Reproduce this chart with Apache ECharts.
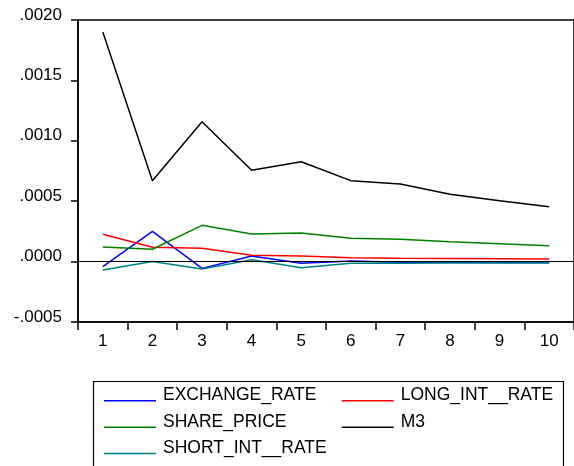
<!DOCTYPE html>
<html>
<head>
<meta charset="utf-8">
<script src="https://cdn.jsdelivr.net/npm/echarts@6/dist/echarts.min.js"></script>
<style>
  html, body { margin: 0; padding: 0; background: #fff; }
  #chart { width: 574px; height: 466px; }
</style>
</head>
<body>
<div id="chart"></div>
<script>
// Response periods
const periods = ['1', '2', '3', '4', '5', '6', '7', '8', '9', '10'];

// Responses per variable
const exchangeRate = [-0.000042, 0.00025, -0.000056, 0.000046, -0.000014, 0.000005, -0.000006, -0.000006, -0.000007, -0.000007];
const longIntRate  = [0.000226, 0.000118, 0.00011, 0.000052, 0.000046, 0.000032, 0.000027, 0.000025, 0.000023, 0.000022];
const sharePrice   = [0.000121, 0.000102, 0.0003, 0.000228, 0.000237, 0.000193, 0.000185, 0.000165, 0.000148, 0.000132];
const m3           = [0.0019, 0.00067, 0.001158, 0.000756, 0.000827, 0.00067, 0.000642, 0.000557, 0.000504, 0.000454];
const shortIntRate = [-0.00007, 0.0, -0.000061, 0.000016, -0.00005, -0.000014, -0.000014, -0.000011, -0.000011, -0.000011];

// Y axis range
const yMin = -0.0005, yMax = 0.002, yStep = 0.0005;

const FONT = 'Liberation Sans';

const chart = echarts.init(document.getElementById('chart'), null, { renderer: 'canvas' });

function line(name, data, color) {
  return {
    name: name,
    type: 'line',
    data: data,
    symbol: 'none',
    lineStyle: { color: color, width: 1.5 },
    itemStyle: { color: color },
    animation: false
  };
}

const seriesList = [
  line('EXCHANGE_RATE', exchangeRate, '#0000ff'),
  line('LONG_INT__RATE', longIntRate, '#ff0000'),
  line('SHARE_PRICE', sharePrice, '#008000'),
  line('M3', m3, '#000000'),
  line('SHORT_INT__RATE', shortIntRate, '#008080')
];

// zero reference line
seriesList[0].markLine = {
  silent: true,
  symbol: 'none',
  label: { show: false },
  lineStyle: { color: '#000', width: 1, type: 'solid' },
  data: [{ yAxis: 0 }],
  animation: false
};

// legend entries: name on the upper line, sample line sits near the baseline
const legendBase = {
  orient: 'vertical',
  icon: 'rect',
  itemWidth: 52,
  itemHeight: 1.5,
  itemGap: 1.9,
  padding: 0,
  height: 120,
  selectedMode: false,
  formatter: name => '{n|' + name + '}\n{s| }',
  textStyle: {
    fontFamily: FONT,
    fontSize: 17.5,
    color: '#000',
    padding: [0, 0, 0, 2],
    rich: {
      n: { fontFamily: FONT, fontSize: 17.5, color: '#000', lineHeight: 16 },
      s: { fontFamily: FONT, fontSize: 4, lineHeight: 11 }
    }
  }
};

chart.setOption({
  backgroundColor: '#fff',
  animation: false,
  grid: {
    left: 78, top: 20, width: 503, height: 302,
    show: true, borderColor: '#000', borderWidth: 1.5,
    containLabel: false
  },
  xAxis: {
    type: 'category',
    data: periods,
    boundaryGap: true,
    axisLine: { onZero: false, lineStyle: { color: '#000', width: 1.5 } },
    axisTick: { show: true, inside: false, length: 8, lineStyle: { color: '#000', width: 1.5 } },
    axisLabel: { color: '#000', fontFamily: FONT, fontSize: 17, margin: 11 },
    splitLine: { show: false }
  },
  yAxis: {
    type: 'value',
    min: yMin, max: yMax, interval: yStep,
    axisLine: { show: true, lineStyle: { color: '#000', width: 1.5 } },
    axisTick: { show: true, inside: false, length: 7, lineStyle: { color: '#000', width: 1.5 } },
    axisLabel: {
      color: '#000', fontFamily: FONT, fontSize: 17, margin: 16,
      verticalAlign: 'bottom', lineHeight: 10,
      formatter: v => v.toFixed(4).replace('0.', '.')
    },
    splitLine: { show: false }
  },
  legend: [
    Object.assign({}, legendBase, { left: 104, top: 386.3, data: ['EXCHANGE_RATE', 'SHARE_PRICE', 'SHORT_INT__RATE'] }),
    Object.assign({}, legendBase, { left: 341.7, top: 386.3, data: ['LONG_INT__RATE', 'M3'] })
  ],
  graphic: [{
    type: 'rect',
    shape: { x: 93.5, y: 381.5, width: 470, height: 100 },
    style: { fill: 'none', stroke: '#000', lineWidth: 1.2 },
    z: 0
  }],
  series: seriesList
});
</script>
</body>
</html>
